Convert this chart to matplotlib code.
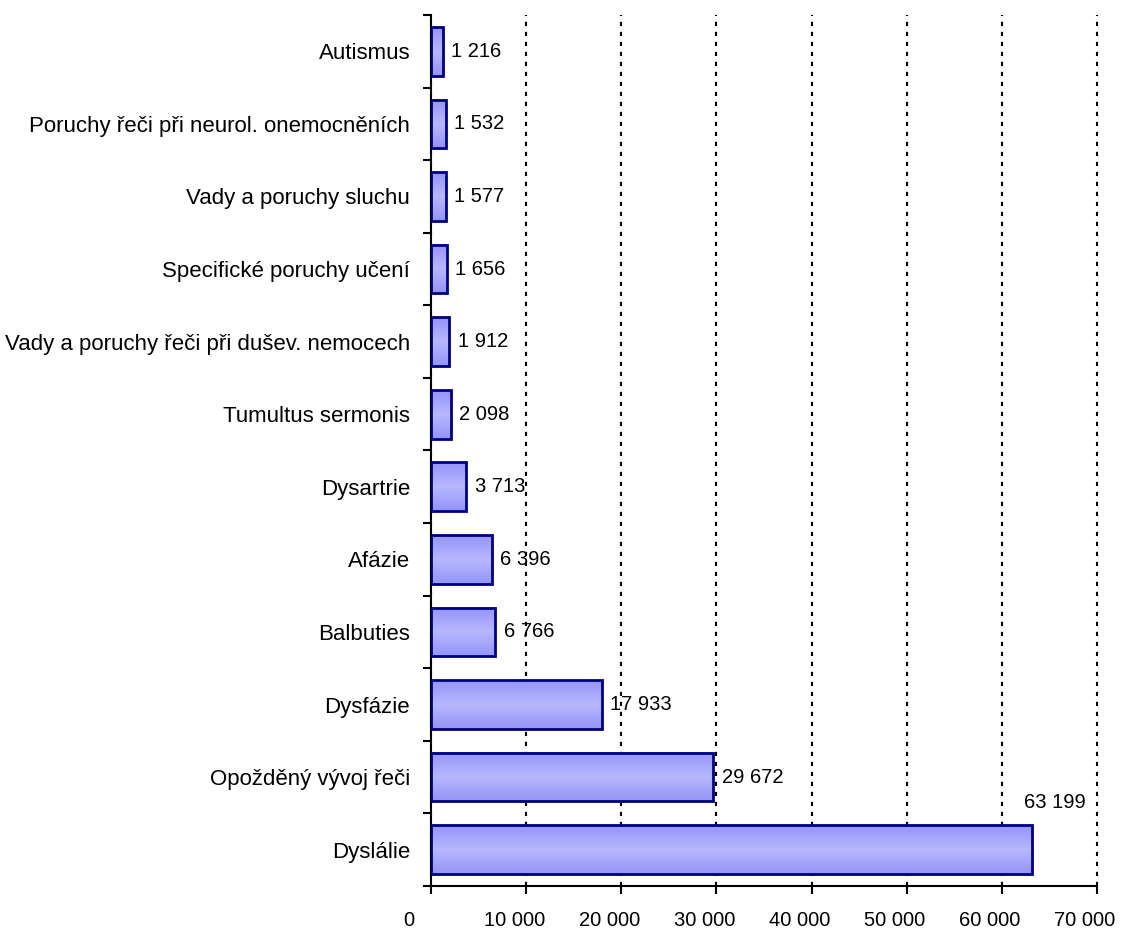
import numpy as np
import matplotlib
matplotlib.use("Agg")
from matplotlib import pyplot as plt
from matplotlib import font_manager
from matplotlib.colors import LinearSegmentedColormap
from matplotlib.transforms import ScaledTranslation

categories = [
    "Dyslálie",
    "Opožděný vývoj řeči",
    "Dysfázie",
    "Balbuties",
    "Afázie",
    "Dysartrie",
    "Tumultus sermonis",
    "Vady a poruchy řeči při dušev. nemocech",
    "Specifické poruchy učení",
    "Vady a poruchy sluchu",
    "Poruchy řeči při neurol. onemocněních",
    "Autismus",
]
values = [63199, 29672, 17933, 6766, 6396, 3713, 2098, 1912, 1656, 1577, 1532, 1216]
xticks = [0, 10000, 20000, 30000, 40000, 50000, 60000, 70000]

# narrow Arial-like face if it is there, plain Liberation Sans otherwise
installed = {f.name for f in font_manager.fontManager.ttflist}
if "Liberation Sans Narrow" in installed:
    plt.rcParams["font.family"] = ["Liberation Sans Narrow", "DejaVu Sans"]
    FS_CAT, FS_VAL = 19, 17
else:
    plt.rcParams["font.family"] = ["Liberation Sans", "DejaVu Sans"]
    FS_CAT, FS_VAL = 16, 14.5

EDGE = "#000080"
BAR_H = 0.67
grad = LinearSegmentedColormap.from_list("bar", ["#9494f6", "#b8b8ff", "#9494f6"])


def fmt(v):
    return f"{v:,}".replace(",", " ")


fig = plt.figure(figsize=(11.21, 9.34), dpi=100)
ax = fig.add_axes([431 / 1121, 1 - 886 / 934, 666 / 1121, 871 / 934])

ys = np.arange(len(categories))
gradient = np.linspace(0, 1, 64).reshape(-1, 1)
for y, v in zip(ys, values):
    ax.imshow(gradient, cmap=grad, aspect="auto", zorder=2,
              extent=[0, v, y - BAR_H / 2, y + BAR_H / 2])
ax.barh(ys, values, height=BAR_H, facecolor="none", edgecolor=EDGE,
        linewidth=2, zorder=3)

for y, v in zip(ys, values):
    if v > 60000:
        ax.annotate(fmt(v), (v, y + BAR_H / 2), xytext=(16, 10),
                    textcoords="offset points", ha="center", va="bottom",
                    fontsize=FS_VAL)
    else:
        ax.annotate(fmt(v), (v, y), xytext=(6, 0), textcoords="offset points",
                    ha="left", va="center", fontsize=FS_VAL)

ax.set_xlim(0, 70000)
ax.set_ylim(-0.5, len(categories) - 0.5)
ax.set_xticks(xticks)
ax.set_xticklabels([fmt(t) for t in xticks], fontsize=FS_VAL)
ax.set_yticks(ys)
ax.set_yticklabels(categories, fontsize=FS_CAT)
ax.set_yticks(np.arange(-0.5, len(categories)), minor=True)
ax.tick_params(axis="y", which="major", length=0, pad=15)
ax.tick_params(axis="y", which="minor", length=6, width=1.5, direction="out")
ax.tick_params(axis="x", length=6, width=1.5, direction="out", pad=12)

# x labels sit a little left of their ticks in the original
for i, lab in enumerate(ax.get_xticklabels()):
    dx = -22 if i == 0 else -12
    lab.set_transform(lab.get_transform() + ScaledTranslation(dx / 100, 0, fig.dpi_scale_trans))

ax.grid(axis="x", color="black", linewidth=1.5, linestyle=(0, (2, 2.8)), zorder=1)
ax.set_axisbelow(True)
for line in ax.get_xgridlines():
    line.set_clip_on(False)

for s in ["top", "right"]:
    ax.spines[s].set_visible(False)
for s in ["left", "bottom"]:
    ax.spines[s].set_linewidth(1.5)

fig.savefig("out.png", dpi=100)
